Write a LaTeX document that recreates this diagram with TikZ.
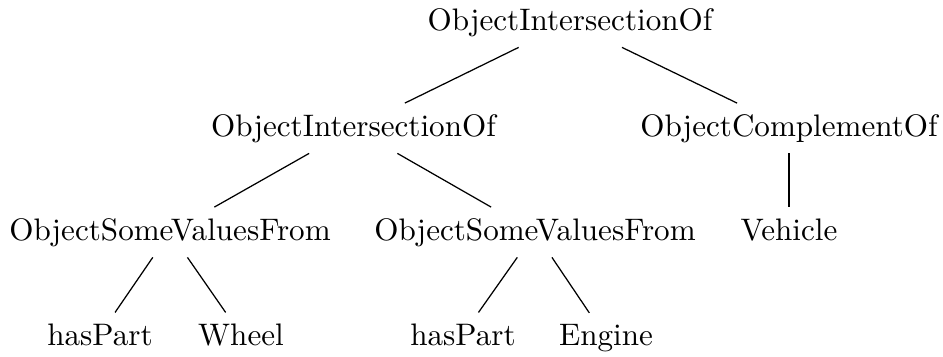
\documentclass[tikz,border=0pt]{standalone}
\begin{document}
\begin{tikzpicture}[x=0.3215pt,y=-0.3215pt,
  term/.style={anchor=base,inner sep=0.3333em},
  link/.style={draw,line width=0.4pt}]
\useasboundingbox (0,0) rectangle (943,356);
% level 0
\node[term] (root) at (570,30) {ObjectIntersectionOf};
% level 1
\node[term] (inter) at (353.5,136) {ObjectIntersectionOf};
\node[term] (compl) at (789,136) {ObjectComplementOf};
% level 2
\node[term] (someA) at (170,240) {ObjectSomeValuesFrom};
\node[term] (someB) at (535,240) {ObjectSomeValuesFrom};
\node[term] (veh) at (789,240) {Vehicle};
% leaves
\node[term] (partA) at (100,345) {hasPart};
\node[term] (wheel) at (241,345) {Wheel};
\node[term] (partB) at (463,345) {hasPart};
\node[term] (engine) at (606,345) {Engine};
% edges
\draw[link] (root) -- (inter);
\draw[link] (root) -- (compl);
\draw[link] (inter) -- (someA);
\draw[link] (inter) -- (someB);
\draw[link] (compl) -- (veh);
\draw[link] (someA) -- (partA);
\draw[link] (someA) -- (wheel);
\draw[link] (someB) -- (partB);
\draw[link] (someB) -- (engine);
\end{tikzpicture}
\end{document}
